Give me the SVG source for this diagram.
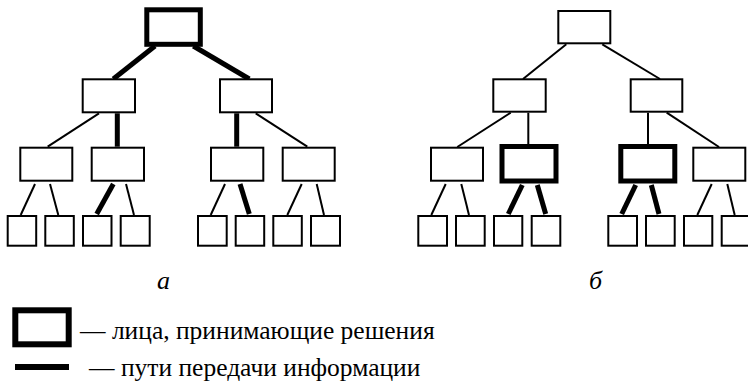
<svg xmlns="http://www.w3.org/2000/svg" width="748" height="384" viewBox="0 0 748 384">
<style>
.n{fill:#fff;stroke:#000;stroke-width:2}
.nt{fill:#fff;stroke:#000;stroke-width:5}
.c{stroke:#000;stroke-width:2;fill:none}
.ct{stroke:#000;stroke-width:5;fill:none}
.lbl{font-family:"Liberation Serif","DejaVu Serif",serif;font-style:italic;font-size:26px;fill:#000}
.txt{font-family:"Liberation Serif","DejaVu Serif",serif;font-size:25.5px;fill:#000}
</style>
<rect width="748" height="384" fill="#fff"/>
<g id="connectors">
<line class="ct" x1="155" y1="46" x2="113.3" y2="79"/>
<line class="ct" x1="193.3" y1="46" x2="249.3" y2="79"/>
<line class="c" x1="99" y1="113.3" x2="47.7" y2="146.7"/>
<line class="ct" x1="117.3" y1="113.3" x2="117.3" y2="146.7"/>
<line class="ct" x1="236.7" y1="113.3" x2="236.7" y2="146.7"/>
<line class="c" x1="255.7" y1="113.3" x2="307.3" y2="146.7"/>
<line class="c" x1="35" y1="184" x2="20.7" y2="215"/>
<line class="c" x1="50" y1="184" x2="58.3" y2="215"/>
<line class="ct" x1="113.3" y1="184" x2="96.7" y2="214"/>
<line class="c" x1="126" y1="184" x2="134" y2="215"/>
<line class="c" x1="225" y1="184" x2="210.7" y2="215"/>
<line class="ct" x1="240" y1="184" x2="249.3" y2="214"/>
<line class="c" x1="301.7" y1="184" x2="287.3" y2="215"/>
<line class="c" x1="316.7" y1="184" x2="324" y2="215"/>
<line class="c" x1="566.3" y1="44.3" x2="523" y2="79"/>
<line class="c" x1="602.3" y1="44.3" x2="660" y2="79"/>
<line class="c" x1="510.7" y1="112.7" x2="457.3" y2="147"/>
<line class="c" x1="528.3" y1="112.7" x2="528.3" y2="144"/>
<line class="c" x1="648" y1="112.7" x2="648" y2="144"/>
<line class="c" x1="666.7" y1="112.7" x2="719" y2="147"/>
<line class="c" x1="445.7" y1="184" x2="431.3" y2="215"/>
<line class="c" x1="461.3" y1="184" x2="469" y2="215"/>
<line class="ct" x1="522.3" y1="185" x2="508.3" y2="214"/>
<line class="ct" x1="537.3" y1="185" x2="545.7" y2="214"/>
<line class="ct" x1="635.7" y1="185" x2="621.7" y2="214"/>
<line class="ct" x1="651.3" y1="185" x2="659" y2="214"/>
<line class="c" x1="711.7" y1="184" x2="697.3" y2="215"/>
<line class="c" x1="727.3" y1="184" x2="734.7" y2="215"/>
</g>
<g id="a-root"><rect class="nt" x="146.8" y="9.8" width="53.5" height="34.5"/></g>
<g id="a-l2-1"><rect class="n" x="82.7" y="79.3" width="52.3" height="33"/></g>
<g id="a-l2-2"><rect class="n" x="220" y="79.3" width="52" height="33"/></g>
<g id="a-l3-1"><rect class="n" x="20.3" y="147.7" width="52" height="33"/></g>
<g id="a-l3-2"><rect class="n" x="91.7" y="147.7" width="52.3" height="33"/></g>
<g id="a-l3-3"><rect class="n" x="211" y="147.7" width="52.3" height="33"/></g>
<g id="a-l3-4"><rect class="n" x="282.7" y="147.7" width="52" height="33"/></g>
<g id="a-l4-1"><rect class="n" x="7.7" y="216" width="28.5" height="29.7"/></g>
<g id="a-l4-2"><rect class="n" x="45.3" y="216" width="28.5" height="29.7"/></g>
<g id="a-l4-3"><rect class="n" x="83" y="216" width="28.5" height="29.7"/></g>
<g id="a-l4-4"><rect class="n" x="120.7" y="216" width="29" height="29.7"/></g>
<g id="a-l4-5"><rect class="n" x="198" y="216" width="28.7" height="29.7"/></g>
<g id="a-l4-6"><rect class="n" x="235.7" y="216" width="28.5" height="29.7"/></g>
<g id="a-l4-7"><rect class="n" x="273.3" y="216" width="28.5" height="29.7"/></g>
<g id="a-l4-8"><rect class="n" x="311" y="216" width="29" height="29.7"/></g>
<g id="b-root"><rect class="n" x="558.3" y="11" width="52" height="32.3"/></g>
<g id="b-l2-1"><rect class="n" x="493.3" y="79.3" width="52.4" height="32.4"/></g>
<g id="b-l2-2"><rect class="n" x="630.7" y="79.3" width="51.6" height="32.4"/></g>
<g id="b-l3-1"><rect class="n" x="431" y="147.7" width="52" height="33"/></g>
<g id="b-l3-2"><rect class="nt" x="502" y="146.5" width="54" height="34.5"/></g>
<g id="b-l3-3"><rect class="nt" x="620.8" y="146.5" width="54" height="34.5"/></g>
<g id="b-l3-4"><rect class="n" x="693.3" y="147.7" width="52" height="33"/></g>
<g id="b-l4-1"><rect class="n" x="418.3" y="216" width="28.7" height="29.7"/></g>
<g id="b-l4-2"><rect class="n" x="456" y="216" width="28.7" height="29.7"/></g>
<g id="b-l4-3"><rect class="n" x="494" y="216" width="28.3" height="29.7"/></g>
<g id="b-l4-4"><rect class="n" x="531.7" y="216" width="28.6" height="29.7"/></g>
<g id="b-l4-5"><rect class="n" x="608.3" y="216" width="28.7" height="29.7"/></g>
<g id="b-l4-6"><rect class="n" x="646" y="216" width="28.7" height="29.7"/></g>
<g id="b-l4-7"><rect class="n" x="684" y="216" width="28.3" height="29.7"/></g>
<g id="b-l4-8"><rect class="n" x="721.7" y="216" width="28.5" height="29.7"/></g>
<text class="lbl" x="157" y="289">а</text>
<text class="lbl" x="589" y="289">б</text>
<g id="legend">
<rect x="15.3" y="310.3" width="53.4" height="34" fill="#fff" stroke="#000" stroke-width="6"/>
<line x1="15" y1="367" x2="69" y2="367" stroke="#000" stroke-width="6"/>
<text class="txt" x="80" y="339">— лица, принимающие решения</text>
<text class="txt" x="89" y="376">— пути передачи информации</text>
</g>
</svg>
